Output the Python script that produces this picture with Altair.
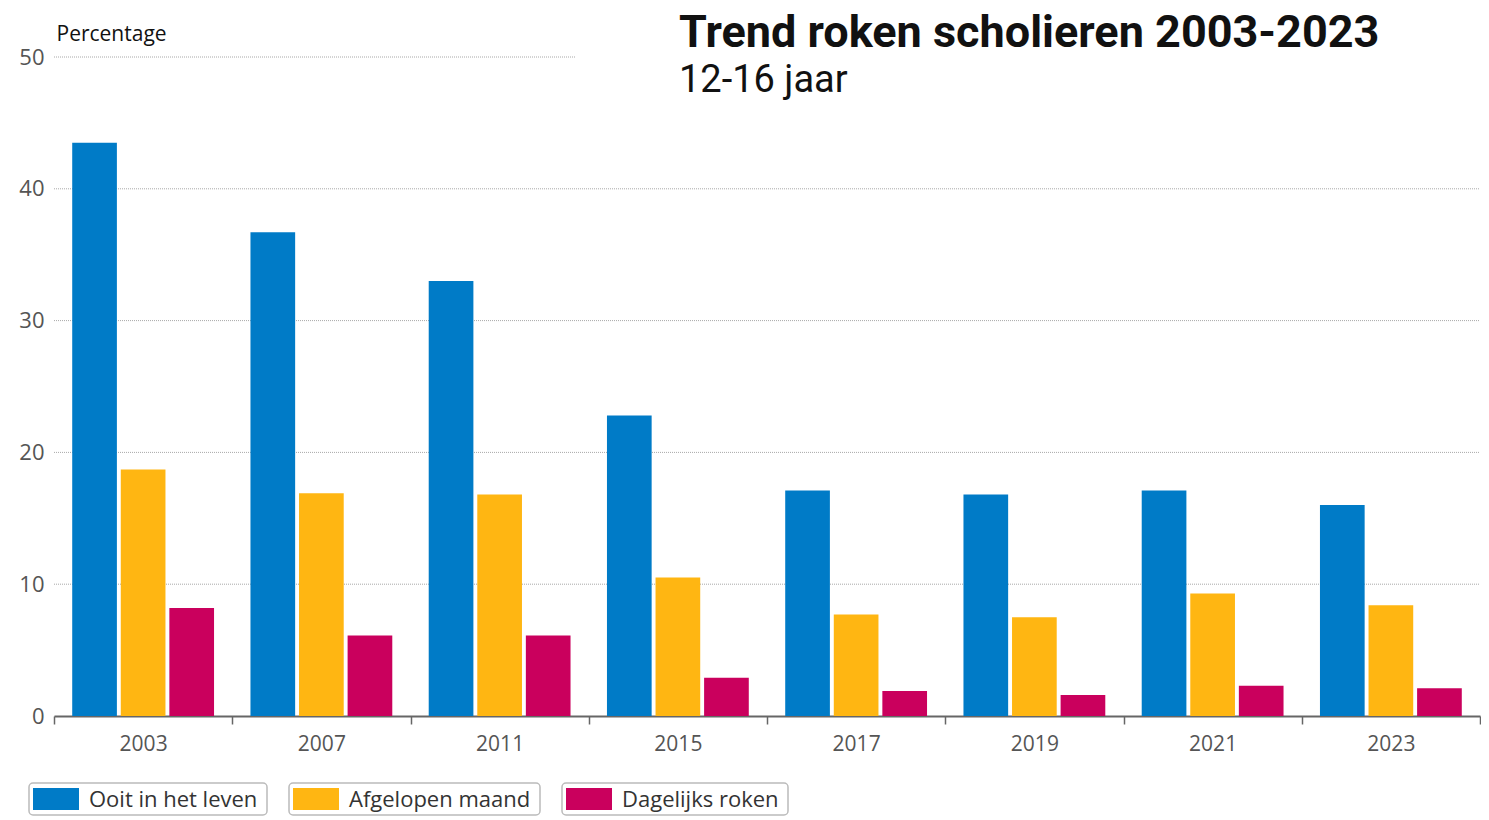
import altair as alt
import pandas as pd

# ---- data ----
years = ["2003", "2007", "2011", "2015", "2017", "2019", "2021", "2023"]
series = ["Ooit in het leven", "Afgelopen maand", "Dagelijks roken"]
ooit = [43.5, 36.7, 33.0, 22.8, 17.1, 16.8, 17.1, 16.0]
maand = [18.7, 16.9, 16.8, 10.5, 7.7, 7.5, 9.3, 8.4]
dagelijks = [8.2, 6.1, 6.1, 2.9, 1.9, 1.6, 2.3, 2.1]
y_ticks = [0, 10, 20, 30, 40, 50]
grid_full = [10, 20, 30, 40]
grid_short = [50]
title_text = ["Trend roken scholieren 2003-2023"]
subtitle_text = ["12-16 jaar"]

# ---- style ----
colors = ["#007BC7", "#FFB612", "#CA005D"]
FONT = "Open Sans"
TFONT = "Roboto"
W, H = 1426, 659

rows = []
for i, yr in enumerate(years):
    for s, vals in zip(series, [ooit, maand, dagelijks]):
        rows.append({"jaar": yr, "reeks": s, "pct": vals[i]})
df = pd.DataFrame(rows)

color_enc = alt.Color("reeks:N", sort=series,
                      scale=alt.Scale(domain=series, range=colors), legend=None)

grid = alt.Chart(pd.DataFrame({"v": grid_full})).mark_rule(
    color="#a8a8a8", strokeDash=[1, 1], strokeWidth=1
).encode(y=alt.Y("v:Q"), x=alt.value(0), x2=alt.value(W))

grid50 = alt.Chart(pd.DataFrame({"v": grid_short})).mark_rule(
    color="#a8a8a8", strokeDash=[1, 1], strokeWidth=1
).encode(y=alt.Y("v:Q"), x=alt.value(0), x2=alt.value(522))

bars = alt.Chart(df).mark_bar().encode(
    x=alt.X("jaar:N", sort=years,
            scale=alt.Scale(paddingInner=0, paddingOuter=0),
            axis=alt.Axis(title=None, labelFontSize=21, labelColor="#555", labelFont=FONT,
                          domainColor="#666", domainWidth=2, tickColor="#666", tickWidth=1.5,
                          tickSize=8, tickBand="extent", labelAngle=0, labelPadding=9,
                          grid=False)),
    xOffset=alt.XOffset("reeks:N", sort=series,
                        scale=alt.Scale(paddingInner=0.08, paddingOuter=0.375)),
    y=alt.Y("pct:Q", scale=alt.Scale(domain=[0, 50], nice=False),
            axis=alt.Axis(values=y_ticks, grid=False, domain=False, ticks=False,
                          labelFontSize=22, labelColor="#555", labelFont=FONT, labelPadding=10,
                          title="Percentage", titleAngle=0, titleAlign="left",
                          titleBaseline="alphabetic", titleX=2, titleY=-17,
                          titleFontSize=21, titleFontWeight="normal", titleColor="#111",
                          titleFont=FONT)),
    color=color_enc,
)

title = alt.Chart(pd.DataFrame({"t": title_text})).mark_text(
    align="left", baseline="alphabetic", fontSize=45, fontWeight="bold", font=TFONT, color="#111"
).encode(text="t:N", x=alt.value(625), y=alt.value(-10))

subtitle = alt.Chart(pd.DataFrame({"t": subtitle_text})).mark_text(
    align="left", baseline="alphabetic", fontSize=38, font=TFONT, color="#111"
).encode(text="t:N", x=alt.value(625), y=alt.value(35))

main = alt.layer(grid, grid50, bars, title, subtitle).properties(width=W, height=H)

# ---- custom boxed legend ----
box_w = [238, 251, 226]
gap = 22
LW, LH = 800, 32
x0 = -25
leg_rows = []
for s, bw in zip(series, box_w):
    leg_rows.append({"reeks": s, "b0": x0, "b1": x0 + bw, "s0": x0 + 4, "s1": x0 + 50, "t0": x0 + 60})
    x0 += bw + gap
leg_df = pd.DataFrame(leg_rows)
lx = alt.Scale(domain=[0, LW], nice=False)

leg_box = alt.Chart(leg_df).mark_rect(fill="white", stroke="#bbbbbb", strokeWidth=1.5, cornerRadius=4).encode(
    x=alt.X("b0:Q", scale=lx, axis=None), x2="b1:Q", y=alt.value(0), y2=alt.value(LH))
leg_sw = alt.Chart(leg_df).mark_rect().encode(
    x=alt.X("s0:Q", scale=lx, axis=None), x2="s1:Q", y=alt.value(5), y2=alt.value(LH - 5),
    color=color_enc)
leg_tx = alt.Chart(leg_df).mark_text(align="left", baseline="middle", fontSize=22, font=FONT, color="#333").encode(
    x=alt.X("t0:Q", scale=lx, axis=None), y=alt.value(LH / 2 + 1), text="reeks:N")
legend = alt.layer(leg_box, leg_sw, leg_tx).properties(width=LW, height=LH)

chart = alt.vconcat(main, legend, spacing=28).properties(
    padding={"left": 10, "top": 3, "right": 0, "bottom": 0}
).configure_view(stroke=None).configure_concat(spacing=28)

chart.save("out.html", embed_options={"renderer": "svg", "actions": False})
